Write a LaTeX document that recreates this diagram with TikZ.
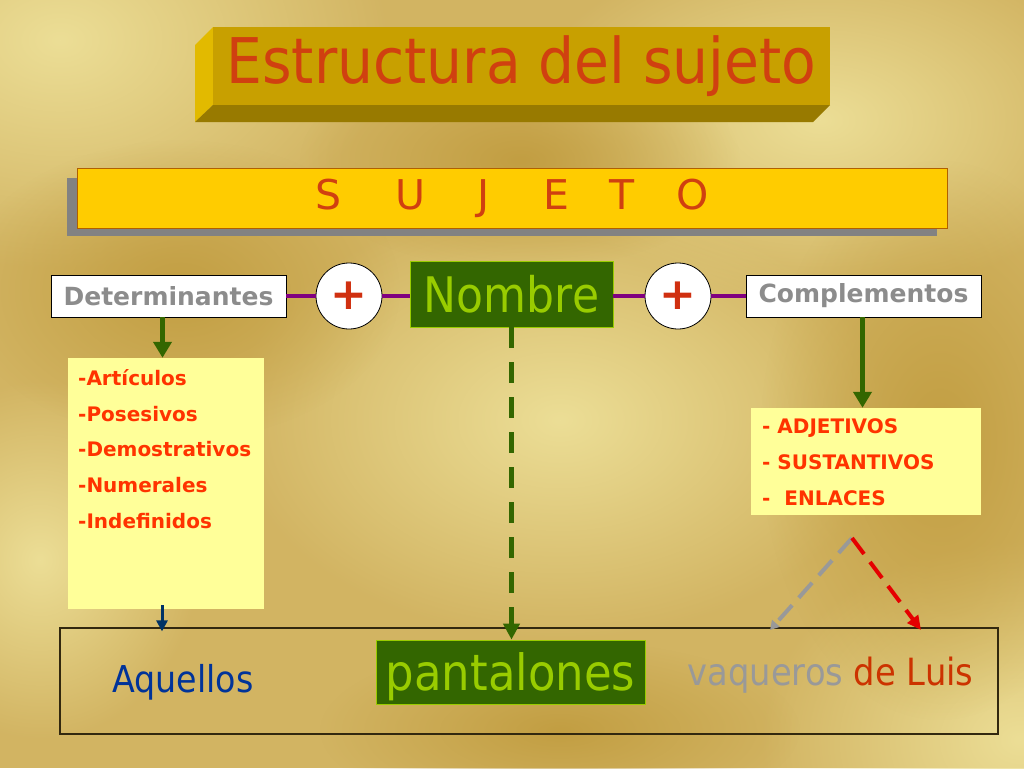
\documentclass[tikz,border=0pt]{standalone}
\usepackage{fontspec}
\setmainfont{DejaVu Sans}
\newfontfamily\condf[FakeStretch=0.9]{DejaVu Sans}
\usetikzlibrary{arrows.meta,fadings}
\tikzfading[name=softspot,inner color=transparent!0,outer color=transparent!100]
\definecolor{bgbase}{RGB}{210,180,98}
\definecolor{bglight}{RGB}{236,222,150}
\definecolor{bgdark}{RGB}{194,158,66}
\definecolor{titlefront}{RGB}{200,160,0}
\definecolor{titleleft}{RGB}{226,186,0}
\definecolor{titlebottom}{RGB}{152,122,0}
\definecolor{titletext}{RGB}{208,64,16}
\definecolor{barfill}{RGB}{255,204,0}
\definecolor{barline}{RGB}{176,96,0}
\definecolor{shadowgray}{RGB}{130,130,130}
\definecolor{greytext}{RGB}{140,140,140}
\definecolor{plusred}{RGB}{208,48,16}
\definecolor{darkgreen}{RGB}{51,102,0}
\definecolor{lime}{RGB}{153,204,0}
\definecolor{purp}{RGB}{128,0,128}
\definecolor{listfill}{RGB}{255,255,153}
\definecolor{listred}{RGB}{255,51,0}
\definecolor{navy}{RGB}{0,51,153}
\definecolor{navyarrow}{RGB}{0,51,102}
\definecolor{vgray}{RGB}{153,153,153}
\definecolor{dlred}{RGB}{204,51,0}
\definecolor{boxline}{RGB}{50,40,15}
\tikzset{
  whitebox/.style={draw=black,line width=0.8pt,fill=white,minimum width=235pt,minimum height=42pt,inner sep=0pt,
    font=\bfseries\fontsize{25}{28}\selectfont,text=greytext},
  pluscirc/.style={circle,draw=black,line width=0.8pt,fill=white,minimum size=66pt,inner sep=0pt,
    font=\bfseries\fontsize{44}{48}\selectfont,text=plusred},
  greenbox/.style={draw=lime,line width=0.8pt,fill=darkgreen,inner sep=0pt,text=lime},
  listbox/.style={fill=listfill,inner sep=0pt},
  listtext/.style={anchor=north west,inner sep=0pt,align=left,text=listred,font=\bfseries\fontsize{20}{35.8}\selectfont},
  purpline/.style={draw=purp,line width=4.5pt},
  greenarrow/.style={draw=darkgreen,line width=5pt,-{Triangle[length=16pt,width=18pt]}},
  dashgreen/.style={draw=darkgreen,line width=5pt,dash pattern=on 21pt off 14pt,-{Triangle[length=16pt,width=16pt]}},
  dashgray/.style={draw=vgray,line width=4pt,dash pattern=on 20pt off 10pt,-{Triangle[length=9pt,width=10pt]}},
  dashred/.style={draw=red!90!black,line width=4pt,dash pattern=on 20pt off 10pt,-{Triangle[length=14pt,width=13pt]}},
  spot/.style={path fading=softspot},
}
\begin{document}
\begin{tikzpicture}[x=1pt,y=-1pt]
\useasboundingbox (0,0) rectangle (1024,768);
% background
\fill[bgbase] (0,0) rectangle (1024,768);
\begin{scope}
\clip (0,0) rectangle (1024,768);
\fill[bglight,spot] (60,40) ellipse (330 and 230);
\fill[bglight,spot] (820,120) ellipse (300 and 180);
\fill[bglight,spot] (560,420) ellipse (330 and 220);
\fill[bglight,spot] (1020,740) ellipse (260 and 200);
\fill[bglight,spot] (40,560) ellipse (160 and 180);
\fill[bgdark,spot] (520,160) ellipse (220 and 110);
\fill[bgdark,spot] (180,290) ellipse (220 and 150);
\fill[bgdark,spot] (940,440) ellipse (180 and 280);
\fill[bgdark,spot] (560,730) ellipse (240 and 90);
\end{scope}
% title block
\fill[titleleft] (195,45) -- (213,27) -- (213,105) -- (195,122) -- cycle;
\fill[titlebottom] (195,122) -- (213,105) -- (830,105) -- (813,122) -- cycle;
\node[fill=titlefront,minimum width=617pt,minimum height=78pt,inner sep=0pt,text=titletext,
  font=\condf\fontsize{63}{70}\selectfont] (title) at (521.5,66) {Estructura del sujeto};
% sujeto bar
\fill[shadowgray] (67,178) rectangle (937,236);
\node[draw=barline,line width=0.8pt,fill=barfill,minimum width=870pt,minimum height=60pt,inner sep=0pt,
  text=titletext,font=\fontsize{41}{46}\selectfont] (sujeto) at (512,198)
  {S\hspace{54pt}U\hspace{52pt}J\hspace{54pt}E\hspace{40pt}T\hspace{42pt}O};
% row
\node[whitebox] (det) at (168.5,296) {Determinantes};
\node[pluscirc] (p1) at (349,296) {+};
\node[greenbox,minimum width=203pt,minimum height=66pt,font=\condf\fontsize{49}{52}\selectfont] (nom) at (511.5,294) {Nombre};
\node[pluscirc] (p2) at (678,296) {+};
\node[whitebox] (comp) at (863.5,296) {Complementos};
\draw[purpline] (det.east) -- (p1.west);
\draw[purpline] (p1.east) -- (p1.east -| nom.west);
\draw[purpline] (p2.west -| nom.east) -- (p2.west);
\draw[purpline] (p2.east) -- (p2.east -| comp.west);
% lists
\node[listbox,minimum width=196pt,minimum height=251pt] (lista) at (166,483.5) {};
\node[listtext] (listat) at (78,369) {-Artículos\\-Posesivos\\-Demostrativos\\-Numerales\\-Indefinidos};
\node[listbox,minimum width=230pt,minimum height=107pt] (listb) at (866,461.5) {};
\node[listtext] (listbt) at (762,418.5) {- ADJETIVOS\\- SUSTANTIVOS\\-\ \ ENLACES};
\draw[greenarrow] ([xshift=-6pt]det.south) -- ([xshift=-6pt]det.south |- lista.north);
\draw[greenarrow] ([xshift=-1pt]comp.south) -- ([xshift=-1pt]comp.south |- listb.north);
% bottom box
\node[draw=boxline,line width=1.2pt,minimum width=938pt,minimum height=106pt,inner sep=0pt] (bottom) at (529,681) {};
\node[text=navy,font=\condf\fontsize{37}{42}\selectfont] (aq) at (183,682) {Aquellos};
\node[greenbox,minimum width=269pt,minimum height=64pt,text height=36pt,text depth=0pt,font=\condf\fontsize{50}{54}\selectfont] (pant) at (510.5,672) {pantalones};
\node[font=\condf\fontsize{37.5}{42}\selectfont] (vdl) at (830.5,675) {\textcolor{vgray}{vaqueros} \textcolor{dlred}{de Luis}};
\draw[dashgreen] (nom.south) -- (nom.south |- pant.north);
\draw[draw=navyarrow,line width=3pt,-{Triangle[length=11pt,width=11pt]}] ([xshift=-4pt,yshift=4pt]lista.south) -- ([xshift=-4pt,yshift=-4pt]lista.south |- bottom.north);
% dashed pair
\coordinate (apex) at (852,538);
\coordinate (vq) at (770,630);
\coordinate (dl) at (921,630);
\draw[dashgray] (apex) -- (vq);
\draw[dashred] (apex) -- (dl);
\end{tikzpicture}
\end{document}
